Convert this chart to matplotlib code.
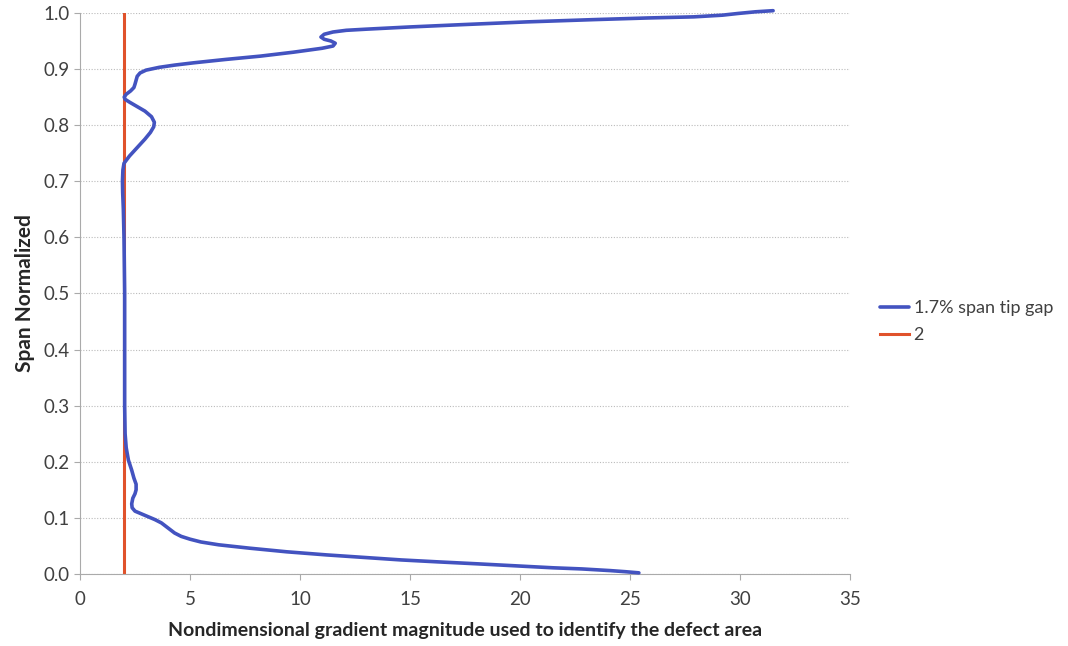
import numpy as np
import matplotlib.pyplot as plt

plt.rcParams["font.family"] = ["Lato", "DejaVu Sans"]

# blue curve: gradient magnitude vs normalized span
gradient = [25.4, 24.8, 24.1, 22.8, 21.5, 19.8, 18.1, 16.3, 14.6, 12.9, 11.2,
            9.4, 7.7, 6.3, 5.5, 5.0, 4.6, 4.3, 4.0, 3.7, 3.4, 3.1, 2.8, 2.5,
            2.37, 2.35, 2.4, 2.5, 2.55, 2.55, 2.45, 2.35, 2.2, 2.1, 2.05,
            2.03, 2.03, 2.03, 2.0, 1.97, 1.94, 1.93, 1.95, 2.0, 2.25, 2.6,
            2.95, 3.2, 3.35, 3.38, 3.25, 2.95, 2.6, 2.25, 2.05, 2.01, 2.1,
            2.3, 2.45, 2.5, 2.55, 2.6, 2.73, 3.0, 3.6, 4.3, 5.15, 6.6, 8.2,
            9.7, 11.0, 11.5, 11.6, 11.4, 11.1, 10.95, 11.1, 11.5, 12.1, 13.0,
            15.0, 17.3, 20.3, 23.3, 25.8, 27.9, 29.2, 29.9, 30.7, 31.5]
span = [0.002, 0.004, 0.006, 0.009, 0.011, 0.0145, 0.018, 0.0215, 0.025,
        0.0295, 0.034, 0.0395, 0.046, 0.052, 0.057, 0.062, 0.067, 0.073,
        0.082, 0.091, 0.097, 0.102, 0.107, 0.112, 0.118, 0.125, 0.135,
        0.143, 0.15, 0.16, 0.171, 0.185, 0.203, 0.225, 0.25, 0.3, 0.4, 0.5,
        0.6, 0.65, 0.68, 0.7, 0.72, 0.732, 0.745, 0.76, 0.775, 0.787, 0.797,
        0.805, 0.815, 0.825, 0.833, 0.841, 0.846, 0.85, 0.855, 0.861, 0.867,
        0.873, 0.88, 0.887, 0.893, 0.898, 0.903, 0.907, 0.911, 0.917, 0.923,
        0.930, 0.937, 0.941, 0.946, 0.950, 0.953, 0.957, 0.962, 0.966,
        0.969, 0.971, 0.975, 0.979, 0.984, 0.988, 0.991, 0.993, 0.996,
        0.999, 1.002, 1.004]

# threshold line
threshold_x = [2, 2]
threshold_y = [0.0, 1.0]

fig = plt.figure(figsize=(10.68, 6.46), dpi=100)
ax = fig.add_axes([0.0749, 0.1115, 0.7211, 0.8685])

ax.plot(gradient, span, color="#4353C0", linewidth=2.6,
        solid_joinstyle="round", solid_capstyle="round", clip_on=False,
        label="1.7% span tip gap", zorder=3)
ax.plot(threshold_x, threshold_y, color="#E0522B", linewidth=2.2,
        label="2", zorder=2)

ax.set_xlim(0, 35)
ax.set_ylim(0, 1.0)
ax.set_xticks(np.arange(0, 36, 5))
ax.set_yticks(np.arange(0, 1.01, 0.1))
ax.set_yticklabels([f"{v:.1f}" for v in np.arange(0, 1.01, 0.1)])

ax.yaxis.grid(True, color="#BBBBBB", linestyle=(0, (1, 1.5)), linewidth=0.8)
for s in ["top", "right"]:
    ax.spines[s].set_visible(False)
for s in ["left", "bottom"]:
    ax.spines[s].set_color("#AAAAAA")
    ax.spines[s].set_linewidth(0.8)
ax.tick_params(axis="both", colors="#AAAAAA", labelcolor="#404040",
               labelsize=13.5, length=4)
ax.tick_params(axis="x", pad=8)

ax.set_xlabel("Nondimensional gradient magnitude used to identify the defect area",
              fontsize=14, fontweight="bold", color="#262626", labelpad=10)
ax.set_ylabel("Span Normalized", fontsize=15, fontweight="bold",
              color="#262626", labelpad=6)

ax.legend(loc="center left", bbox_to_anchor=(1.018, 0.45), frameon=False,
          fontsize=13, handlelength=1.6, handletextpad=0.25,
          labelcolor="#404040", labelspacing=0.6)

fig.savefig("out.png", dpi=100, facecolor="white")
